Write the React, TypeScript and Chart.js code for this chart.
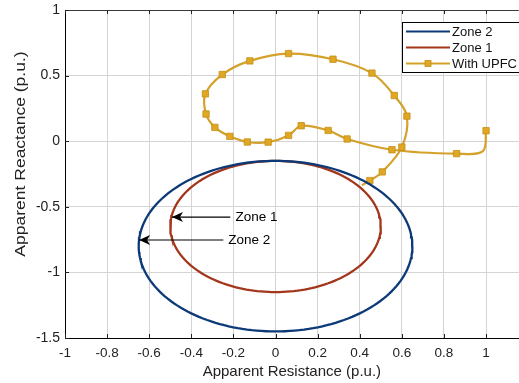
import React, { useEffect, useRef } from "react";
import { Chart, registerables } from "chart.js";

Chart.register(...registerables);

// ---- axis ticks ----
const xTicks = [-1, -0.8, -0.6, -0.4, -0.2, 0, 0.2, 0.4, 0.6, 0.8, 1];
const yTicks = [-1.5, -1, -0.5, 0, 0.5, 1];

// ---- relay zones (mho circles: centre and radius, p.u.) ----
const zoneNames = ["Zone 2", "Zone 1"];
const zoneCenterX = [0, 0];
const zoneCenterY = [-0.8, -0.65];
const zoneRadius = [0.65, 0.5];

// ---- impedance trajectory with UPFC ----
const upfcR = [1.0, 0.985, 0.86, 0.553, 0.34, 0.25, 0.122, 0.062, -0.035, -0.134, -0.217, -0.288, -0.33, -0.333, -0.253, -0.122, 0.062, 0.273, 0.458, 0.564, 0.624, 0.6, 0.507, 0.448, 0.41];
const upfcX = [0.08, -0.075, -0.095, -0.065, 0.017, 0.082, 0.118, 0.044, -0.007, -0.006, 0.037, 0.105, 0.207, 0.361, 0.508, 0.612, 0.668, 0.625, 0.519, 0.348, 0.191, -0.045, -0.234, -0.3, -0.335];
const upfcMarked = [1, 0, 1, 1, 1, 1, 1, 1, 1, 1, 1, 1, 1, 1, 1, 1, 1, 1, 1, 1, 1, 1, 1, 1, 0];

// ---- text annotations with arrows ----
const annoText = ["Zone 1", "Zone 2"];
const annoHeadX = [-0.492, -0.648];
const annoHeadY = [-0.578, -0.753];
const annoTailX = [-0.215, -0.248];
const annoTextX = [-0.19, -0.225];

const xTitle = "Apparent Resistance (p.u.)";
const yTitle = "Apparent Reactance (p.u.)";

const COLORS = {
  zone2: "#0c3a78",
  zone1: "#a3361b",
  upfc: "#d4a12a",
  upfcMarker: "#e0a722",
  grid: "#d4d4d4",
};
const FONT = "'Liberation Sans', Arial, Helvetica, sans-serif";

function circlePoints(cx: number, cy: number, r: number) {
  const pts: { x: number; y: number }[] = [];
  for (let i = 0; i <= 360; i += 2) {
    const a = (i * Math.PI) / 180;
    pts.push({ x: cx + r * Math.cos(a), y: cy + r * Math.sin(a) });
  }
  return pts;
}

const overlayPlugin = {
  id: "overlay",
  afterDraw(chart: any) {
    const { ctx, chartArea, scales } = chart;
    const xs = scales.x;
    const ys = scales.y;
    ctx.save();
    // top border with inward ticks
    ctx.strokeStyle = "#3a3a3a";
    ctx.lineWidth = 1;
    ctx.beginPath();
    ctx.moveTo(chartArea.left, chartArea.top + 0.5);
    ctx.lineTo(chartArea.right, chartArea.top + 0.5);
    ctx.stroke();
    ctx.strokeStyle = "#222";
    ctx.beginPath();
    xTicks.forEach((v) => {
      const px = Math.round(xs.getPixelForValue(v)) + 0.5;
      ctx.moveTo(px, chartArea.top);
      ctx.lineTo(px, chartArea.top + 4);
      ctx.moveTo(px, chartArea.bottom);
      ctx.lineTo(px, chartArea.bottom - 4);
    });
    yTicks.forEach((v) => {
      const py = Math.round(ys.getPixelForValue(v)) + 0.5;
      ctx.moveTo(chartArea.left, py);
      ctx.lineTo(chartArea.left + 4, py);
    });
    ctx.stroke();

    // y-axis title (slightly stretched along its length as in the reference)
    ctx.save();
    ctx.fillStyle = "#222";
    ctx.font = `14px ${FONT}`;
    ctx.textAlign = "center";
    ctx.textBaseline = "middle";
    ctx.translate(21, (chartArea.top + chartArea.bottom) / 2 - 20);
    ctx.rotate(-Math.PI / 2);
    ctx.scale(1.25, 1);
    ctx.fillText(yTitle, 0, 0);
    ctx.restore();

    // annotations with arrows
    ctx.strokeStyle = "#000";
    ctx.fillStyle = "#000";
    ctx.lineWidth = 1.2;
    ctx.font = `13.5px ${FONT}`;
    ctx.textBaseline = "middle";
    ctx.textAlign = "left";
    annoText.forEach((t, i) => {
      const hx = xs.getPixelForValue(annoHeadX[i]);
      const hy = ys.getPixelForValue(annoHeadY[i]);
      const tx = xs.getPixelForValue(annoTailX[i]);
      ctx.beginPath();
      ctx.moveTo(tx, hy);
      ctx.lineTo(hx, hy);
      ctx.stroke();
      ctx.beginPath();
      ctx.moveTo(hx, hy);
      ctx.lineTo(hx + 11, hy - 5);
      ctx.lineTo(hx + 8, hy);
      ctx.lineTo(hx + 11, hy + 5);
      ctx.closePath();
      ctx.fill();
      ctx.fillText(t, xs.getPixelForValue(annoTextX[i]), hy);
    });

    // legend box
    const bx = 402.5, by = 22.5, bw = 130, bh = 50;
    ctx.fillStyle = "#fff";
    ctx.fillRect(bx, by, bw, bh);
    ctx.strokeStyle = "#000";
    ctx.lineWidth = 1;
    ctx.strokeRect(bx, by, bw, bh);
    const rows = [
      { label: zoneNames[0], color: COLORS.zone2, marker: false, y: 31.5 },
      { label: zoneNames[1], color: COLORS.zone1, marker: false, y: 47.5 },
      { label: "With UPFC", color: COLORS.upfc, marker: true, y: 63.5 },
    ];
    ctx.font = `13px ${FONT}`;
    rows.forEach((r) => {
      ctx.strokeStyle = r.color;
      ctx.lineWidth = 2.2;
      ctx.beginPath();
      ctx.moveTo(406, r.y);
      ctx.lineTo(450, r.y);
      ctx.stroke();
      if (r.marker) {
        ctx.fillStyle = COLORS.upfcMarker;
        ctx.fillRect(425, r.y - 3, 6, 6);
        ctx.strokeStyle = "#c48f1a";
        ctx.lineWidth = 0.8;
        ctx.strokeRect(425, r.y - 3, 6, 6);
      }
      ctx.fillStyle = "#111";
      ctx.fillText(r.label, 452, r.y + 0.5);
    });
    ctx.restore();
  },
};

export default function App() {
  const ref = useRef<HTMLCanvasElement | null>(null);
  useEffect(() => {
    if (!ref.current) return;
    const zoneColors = [COLORS.zone2, COLORS.zone1];
    const datasets: any[] = zoneNames.map((name, i) => ({
      label: name,
      data: circlePoints(zoneCenterX[i], zoneCenterY[i], zoneRadius[i]),
      borderColor: zoneColors[i],
      borderWidth: 2.3,
      pointRadius: 0,
      showLine: true,
      tension: 0,
    }));
    datasets.push({
      label: "With UPFC",
      data: upfcR.map((x, i) => ({ x, y: upfcX[i] })),
      borderColor: COLORS.upfc,
      borderWidth: 2.2,
      showLine: true,
      tension: 0.35,
      pointStyle: "rect",
      pointRadius: (c: any) => (upfcMarked[c.dataIndex] ? 4.5 : 0),
      pointBackgroundColor: COLORS.upfcMarker,
      pointBorderColor: "#c48f1a",
      pointBorderWidth: 0.8,
    });
    const chart = new Chart(ref.current, {
      type: "scatter",
      data: { datasets },
      options: {
        animation: false,
        responsive: false,
        layout: { padding: { top: 10, right: 0, left: 0, bottom: 0 } },
        plugins: { legend: { display: false }, tooltip: { enabled: false } },
        scales: {
          x: {
            type: "linear",
            min: -1,
            max: 1.155,
            afterBuildTicks: (s: any) => {
              s.ticks = xTicks.map((v) => ({ value: v }));
            },
            afterFit: (s: any) => {
              s.height = 45;
            },
            ticks: {
              color: "#222",
              font: { family: FONT, size: 13.5 },
              padding: 7,
              maxRotation: 0,
              callback: (v: any) => String(v),
            },
            grid: { color: COLORS.grid, drawTicks: false },
            border: { color: "#000", width: 1 },
            title: {
              display: true,
              text: xTitle,
              color: "#222",
              font: { family: FONT, size: 15 },
              padding: { top: 0, bottom: 2 },
            },
          },
          y: {
            type: "linear",
            min: -1.5,
            max: 1,
            afterBuildTicks: (s: any) => {
              s.ticks = yTicks.map((v) => ({ value: v }));
            },
            afterFit: (s: any) => {
              s.width = 65;
              s.paddingTop = 0;
              s.paddingBottom = 0;
            },
            ticks: {
              color: "#222",
              font: { family: FONT, size: 14 },
              padding: 5,
              callback: (v: any) => String(v),
            },
            grid: { color: COLORS.grid, drawTicks: false },
            border: { color: "#000", width: 1 },
            title: { display: false },
          },
        },
      },
      plugins: [overlayPlugin],
    });
    return () => chart.destroy();
  }, []);
  return (
    <div style={{ position: "absolute", left: 0, top: 0, width: 519, height: 383, overflow: "hidden", background: "#fff" }}>
      <canvas ref={ref} width={524} height={383} style={{ display: "block" }} />
    </div>
  );
}
